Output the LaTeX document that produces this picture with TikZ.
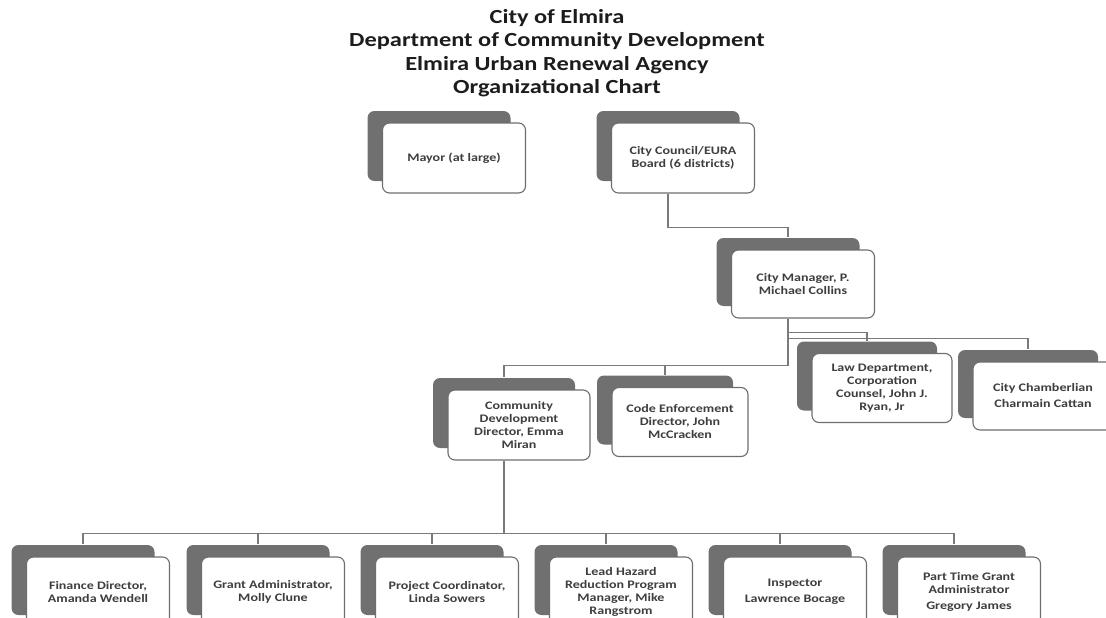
\documentclass[tikz,border=0pt]{standalone}
\usepackage{fontspec}
\setmainfont{Carlito}
\newfontfamily\widefont[FakeStretch=1.22]{Carlito}
\usetikzlibrary{shadows}

\definecolor{linegray}{HTML}{7A7A7A}
\definecolor{boxgray}{HTML}{6E6E6E}
\definecolor{shadowgray}{HTML}{707070}
\definecolor{textgray}{HTML}{3E3E3E}
\definecolor{titlegray}{HTML}{1C1C1C}

\begin{document}
\begin{tikzpicture}[x=1pt, y=-1pt,
    orgbox/.style={draw=boxgray, line width=1.1pt, fill=white, rounded corners=7pt,
        minimum width=143pt, minimum height=70pt, align=center, text=textgray,
        font=\widefont\bfseries\fontsize{11.5}{13}\selectfont,
        general shadow={fill=shadowgray, draw=none, shadow xshift=-15pt, shadow yshift=12pt}},
    link/.style={draw=linegray, line width=1.4pt}]
    \useasboundingbox (0,0) rectangle (1106,618);

    % Title
    \node[font=\widefont\bfseries\fontsize{20}{23.5}\selectfont, text=titlegray, align=center] (title) at (557,53)
        {City of Elmira\\Department of Community Development\\Elmira Urban Renewal Agency\\Organizational Chart};

    % Top level
    \node[orgbox] (mayor) at (454,158) {Mayor (at large)};
    \node[orgbox] (council) at (683,158) {City Council/EURA\\Board (6 districts)};
    \node[orgbox, minimum height=68pt] (manager) at (803,284) {City Manager, P.\\Michael Collins};

    % Departments
    \node[orgbox, minimum width=142pt] (cd) at (519,425) {Community\\Development\\Director, Emma\\Miran};
    \node[orgbox, minimum width=136pt, minimum height=69pt] (code) at (680,422) {Code Enforcement\\Director, John\\McCracken};
    \node[orgbox, minimum width=140pt, minimum height=69pt] (law) at (882,388) {Law Department,\\Corporation\\Counsel, John J.\\Ryan, Jr};
    \node[orgbox, minimum width=140pt, minimum height=68pt] (chamberlain) at (1043,396) {City Chamberlian\\[3pt]Charmain Cattan};

    % Community development staff
    \node[orgbox] (finance) at (98,592) {Finance Director,\\Amanda Wendell};
    \node[orgbox] (grant) at (273,592) {Grant Administrator,\\Molly Clune};
    \node[orgbox] (project) at (447,592) {Project Coordinator,\\Linda Sowers};
    \node[orgbox] (lead) at (621,592) {Lead Hazard\\Reduction Program\\Manager, Mike\\Rangstrom};
    \node[orgbox] (inspector) at (795,592) {Inspector\\[3pt]Lawrence Bocage};
    \node[orgbox] (parttime) at (969,592) {Part Time Grant\\Administrator\\[3pt]Gregory James};

    % top of each shadow, where the links come in
    \foreach \n in {manager,cd,code,law,chamberlain,finance,grant,project,lead,inspector,parttime}
        \coordinate (\n-top) at ([shift={(-15,-12)}]\n.north);
    \coordinate (mgrjoint) at ([shift={(-15,47)}]manager.south);
    \coordinate (cdjoint) at ([shift={(-15,73)}]cd.south);

    % Connectors
    \draw[link] ([xshift=-15pt]council.south) -- ++(0,34) -| (manager-top);
    \draw[link] ([xshift=-15pt]manager.south) -- ++(0,14) -| (law-top);
    \draw[link] ([xshift=-15pt]manager.south) -- ++(0,20) -| (chamberlain-top);
    \draw[link] ([xshift=-15pt]manager.south) -- (mgrjoint) -| (cd-top);
    \draw[link] (code-top) -- (code-top |- mgrjoint);
    \draw[link] ([xshift=-15pt]cd.south) -- (cdjoint);
    \draw[link] (finance-top) |- (cdjoint) -| (parttime-top);
    \foreach \n in {grant,project,lead,inspector}
        \draw[link] (\n-top) -- (\n-top |- cdjoint);
\end{tikzpicture}
\end{document}
